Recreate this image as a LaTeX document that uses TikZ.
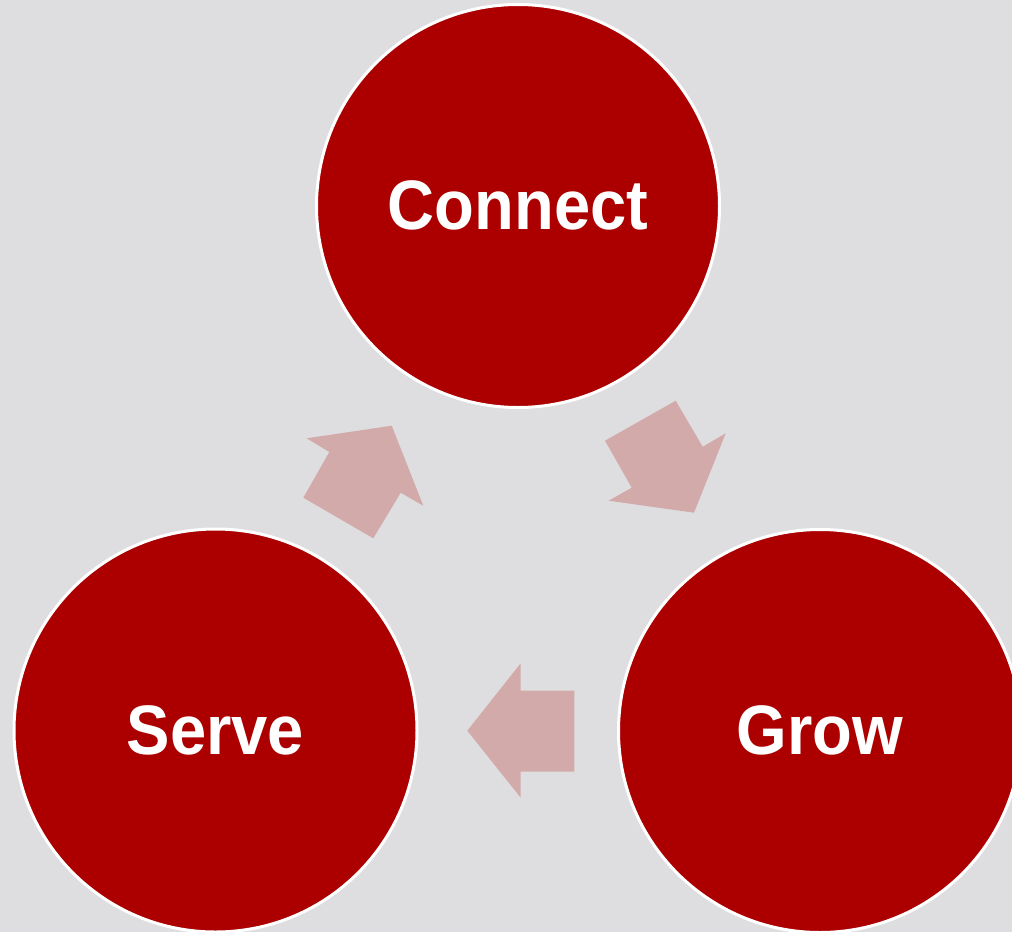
\documentclass[tikz,border=0pt]{standalone}
\usepackage{fontspec}
\newfontfamily\labfont{Liberation Sans}[FakeStretch=0.93]
\definecolor{bgc}{RGB}{222,222,224}
\definecolor{redc}{RGB}{172,0,0}
\definecolor{pinkc}{RGB}{211,170,170}
\begin{document}
\begin{tikzpicture}[x=1pt,y=-1pt,
  stage/.style={circle, fill=redc, draw=white, line width=3pt, minimum size=403pt, inner sep=0pt,
    text=white, font=\labfont\bfseries\fontsize{70}{84}\selectfont, text height=50pt, text depth=3pt},
  blockarrow/.style={fill=pinkc, draw=none}]
\useasboundingbox (0,0) rectangle (1012,932);
\clip (0,0) rectangle (1012,932);
\fill[bgc] (0,0) rectangle (1012,932);
\node[stage] (connect) at (518,206) {Connect};
\node[stage] (serve) at (215.5,730.5) {Serve};
\node[stage] (grow) at (820,731) {Grow};
% Serve -> Connect
\fill[blockarrow] (391.7,425.7) -- (306.7,438.3) -- (329.3,452) -- (303.3,497.7)
  -- (373.3,538.3) -- (400.7,492.7) -- (423.3,505.7) -- cycle;
% Connect -> Grow
\fill[blockarrow] (605,440.7) -- (675.7,400.7) -- (702.7,446.7) -- (725.7,433.3)
  -- (694,512.7) -- (608.7,500.7) -- (631.7,487.7) -- cycle;
% Grow -> Serve
\fill[blockarrow] (467.3,730.7) -- (520.7,663.3) -- (520.7,690.7) -- (574.3,690.7)
  -- (574.3,771.7) -- (520.7,771.7) -- (520.7,797.7) -- cycle;
\end{tikzpicture}
\end{document}
